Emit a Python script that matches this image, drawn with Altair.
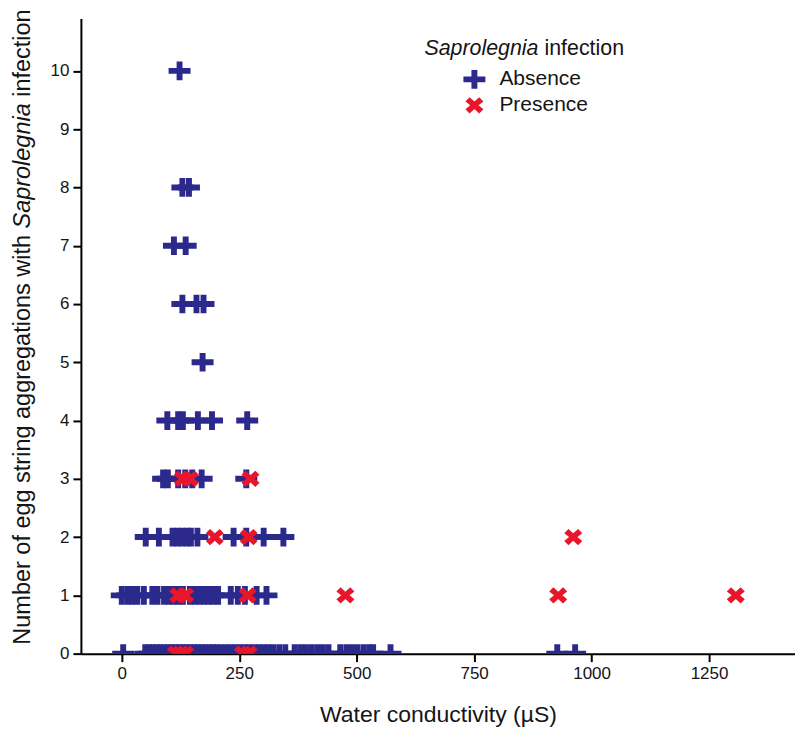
import altair as alt
import pandas as pd

# Water conductivity (µS) of each observation, grouped by the number of
# egg string aggregations with Saprolegnia infection (y level)
absence_0 = [3, 50, 58, 66, 74, 82, 90, 98, 106, 114, 122, 130, 138, 146, 154, 162,
             170, 178, 186, 194, 202, 212, 222, 232, 242, 252, 262, 272, 282, 292,
             302, 312, 322, 335, 348, 368, 380, 392, 404, 416, 428, 440, 465, 478,
             490, 502, 515, 527, 535, 572, 927, 965]
absence_1 = [0, 12, 22, 33, 47, 65, 76, 90, 100, 110, 120, 130, 145, 155, 165, 175,
             185, 195, 205, 232, 247, 262, 287, 308]
absence_2 = [51, 79, 108, 118, 128, 138, 147, 161, 238, 265, 302, 344]
absence_3 = [88, 98, 120, 135, 150, 170, 265]
absence_4 = [97, 120, 130, 162, 192, 267]
absence_5 = [172]
absence_6 = [129, 159, 174]
absence_7 = [111, 136]
absence_8 = [129, 143]
absence_10 = [123]

presence_0 = [115, 125, 135, 258, 270]
presence_1 = [120, 135, 268, 476, 929, 1307]
presence_2 = [198, 270, 961]
presence_3 = [130, 145, 274]

groups = ["Absence", "Presence"]
colors = ["#2B2A8C", "#E9162B"]
x_ticks = [0, 250, 500, 750, 1000, 1250]
y_ticks = [0, 1, 2, 3, 4, 5, 6, 7, 8, 9, 10]

absence_rows = {0: absence_0, 1: absence_1, 2: absence_2, 3: absence_3, 4: absence_4,
                5: absence_5, 6: absence_6, 7: absence_7, 8: absence_8, 10: absence_10}
presence_rows = {0: presence_0, 1: presence_1, 2: presence_2, 3: presence_3}

records = []
for level, xs in absence_rows.items():
    for v in xs:
        records.append({"cond": v, "count": level, "infection": "Absence"})
for level, xs in presence_rows.items():
    for v in xs:
        records.append({"cond": v, "count": level, "infection": "Presence"})
df = pd.DataFrame(records)

PLUS = "M-1,-0.27H-0.27V-0.85H0.27V-0.27H1V0.27H0.27V0.85H-0.27V0.27H-1Z"
XMARK = ("M-0.82,-0.36L-0.44,-0.74L0,-0.34L0.44,-0.74L0.82,-0.36L0.38,0L0.82,0.36"
         "L0.44,0.74L0,0.34L-0.44,0.74L-0.82,0.36L-0.38,0Z")

FONT = "Liberation Sans"
TXT = "#151515"

leg = alt.Legend(title=None, orient="none", legendX=383, legendY=50,
                 labelFontSize=21, labelFont=FONT, labelColor=TXT, labelOffset=14,
                 rowPadding=5, padding=0, symbolOpacity=1, symbolStrokeWidth=0,
                 symbolSize=484)

points = alt.Chart(df).mark_point(filled=True, opacity=1, size=484, clip=True).encode(
    x=alt.X("cond:Q",
            scale=alt.Scale(domain=[-87, 1433], nice=False, zero=False),
            axis=alt.Axis(values=x_ticks, format="d", title="Water conductivity (µS)",
                          titleFontSize=23, titleFont=FONT, titleFontWeight="normal",
                          titleColor=TXT, labelFontSize=17, labelFont=FONT,
                          labelColor=TXT, tickSize=8, tickWidth=2, domainWidth=2,
                          domainColor="black", tickColor="black", grid=False,
                          labelPadding=4, titlePadding=22, labelFlush=False)),
    y=alt.Y("count:Q",
            scale=alt.Scale(domain=[0, 10.9], nice=False),
            axis=alt.Axis(values=y_ticks, title=None, labelFontSize=17, labelFont=FONT,
                          labelColor=TXT, tickSize=8, tickWidth=2, domainWidth=2,
                          domainColor="black", tickColor="black", grid=False,
                          labelPadding=4)),
    color=alt.Color("infection:N", scale=alt.Scale(domain=groups, range=colors), legend=leg),
    shape=alt.Shape("infection:N", scale=alt.Scale(domain=groups, range=[PLUS, XMARK]), legend=leg),
)

one = pd.DataFrame({"a": [0]})

def label(text, x, y, angle=0, italic=False, size=21, align="left"):
    props = dict(text=text, font=FONT, fontSize=size, color=TXT, align=align,
                 baseline="middle", fontStyle="italic" if italic else "normal")
    if angle:
        props["angle"] = angle
    return alt.Chart(one).mark_text(**props).encode(x=alt.value(x), y=alt.value(y))

YS = 23.5
SP = 0.278
ytitle1 = label("Number of egg string aggregations with", -58, 627, angle=270, size=YS)
ytitle2 = label("Saprolegnia", -58, 627 - 17.73 * YS, angle=270, size=YS, italic=True)
ytitle3 = label("infection", -58, 627 - (17.73 + 5.336 + SP) * YS, angle=270, size=YS)

LS = 21.4
ltitle1 = label("Saprolegnia", 344, 31, italic=True, size=LS)
ltitle2 = label("infection", 344 + (5.336 + SP) * LS, 31, size=LS)

chart = alt.layer(points, ytitle1, ytitle2, ytitle3, ltitle1, ltitle2).properties(
    width=715, height=636,
    padding={"left": 2, "top": 0, "right": 0, "bottom": 0},
).configure_view(stroke=None)

chart.save("out.html", embed_options={"renderer": "svg", "actions": False})
